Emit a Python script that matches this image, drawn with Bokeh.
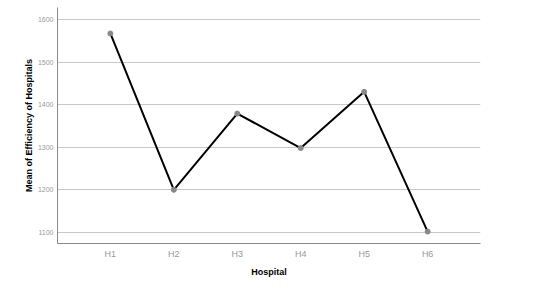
from bokeh.plotting import figure
from bokeh.models import FactorRange, Range1d, FixedTicker
from bokeh.embed import file_html
from bokeh.resources import INLINE

hospitals = ["H1", "H2", "H3", "H4", "H5", "H6"]
efficiency = [1567, 1200, 1379, 1298, 1430, 1102]
y_ticks = [1100, 1200, 1300, 1400, 1500, 1600]

p = figure(width=540, height=287, output_backend="svg", toolbar_location=None,
           x_range=FactorRange(*hospitals, range_padding=0.111, range_padding_units="percent"),
           y_range=Range1d(1074, 1628),
           min_border_left=57, min_border_right=60, min_border_top=7, min_border_bottom=44)
p.outline_line_color = None
p.background_fill_color = "white"
p.border_fill_color = "white"

p.line(hospitals, efficiency, line_color="black", line_width=2)
p.scatter(hospitals, efficiency, size=5, fill_color="#888888", line_color="#888888")

p.xgrid.grid_line_color = None
p.ygrid.grid_line_color = "#c8c8c8"
p.ygrid.grid_line_width = 1

p.yaxis.ticker = FixedTicker(ticks=y_ticks)
for ax in (p.xaxis, p.yaxis):
    ax.axis_line_color = "#888888"
    ax.major_tick_line_color = None
    ax.minor_tick_line_color = None
    ax.major_tick_out = 0
    ax.major_tick_in = 0
    ax.minor_tick_out = 0
    ax.major_label_text_font = "Liberation Sans"
    ax.major_label_text_color = "#999999"
    ax.axis_label_text_font = "Liberation Sans"
    ax.axis_label_text_font_style = "bold"
    ax.axis_label_text_font_size = "9px"
    ax.axis_label_text_color = "black"

p.yaxis.major_label_text_font_size = "7px"
p.xaxis.major_label_text_font_size = "9px"
p.yaxis.axis_label = "Mean of Efficiency of Hospitals"
p.xaxis.axis_label = "Hospital"
p.yaxis.major_label_standoff = 4
p.xaxis.major_label_standoff = 5
p.xaxis.axis_label_standoff = 5
p.yaxis.axis_label_standoff = 1

open("out.html", "w").write(file_html(p, INLINE))
